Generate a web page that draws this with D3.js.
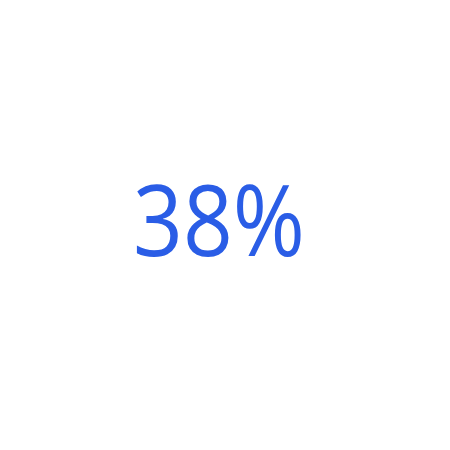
<!DOCTYPE html>
<html>
<head>
<meta charset="utf-8">
<script src="https://cdn.jsdelivr.net/npm/d3@7"></script>
<style>
  html, body { margin: 0; padding: 0; background: #fff; }
</style>
</head>
<body>
<svg id="chart" width="450" height="450"></svg>
<script>
// single KPI value
var labels = ["share"];
var values = [0.38];

var w = 450, h = 450;
var svg = d3.select("#chart");

var fmt = d3.format(".0%");

svg.selectAll("text.kpi")
    .data(values)
    .enter()
    .append("text")
    .attr("class", "kpi")
    .attr("x", 219)
    .attr("y", 256)
    .attr("text-anchor", "middle")
    .attr("textLength", 172)
    .attr("lengthAdjust", "spacingAndGlyphs")
    .style("font-family", "'Open Sans', sans-serif")
    .style("font-size", "98px")
    .style("font-weight", 400)
    .style("fill", "#2a5de6")
    .text(function (d) { return fmt(d); });
</script>
</body>
</html>
